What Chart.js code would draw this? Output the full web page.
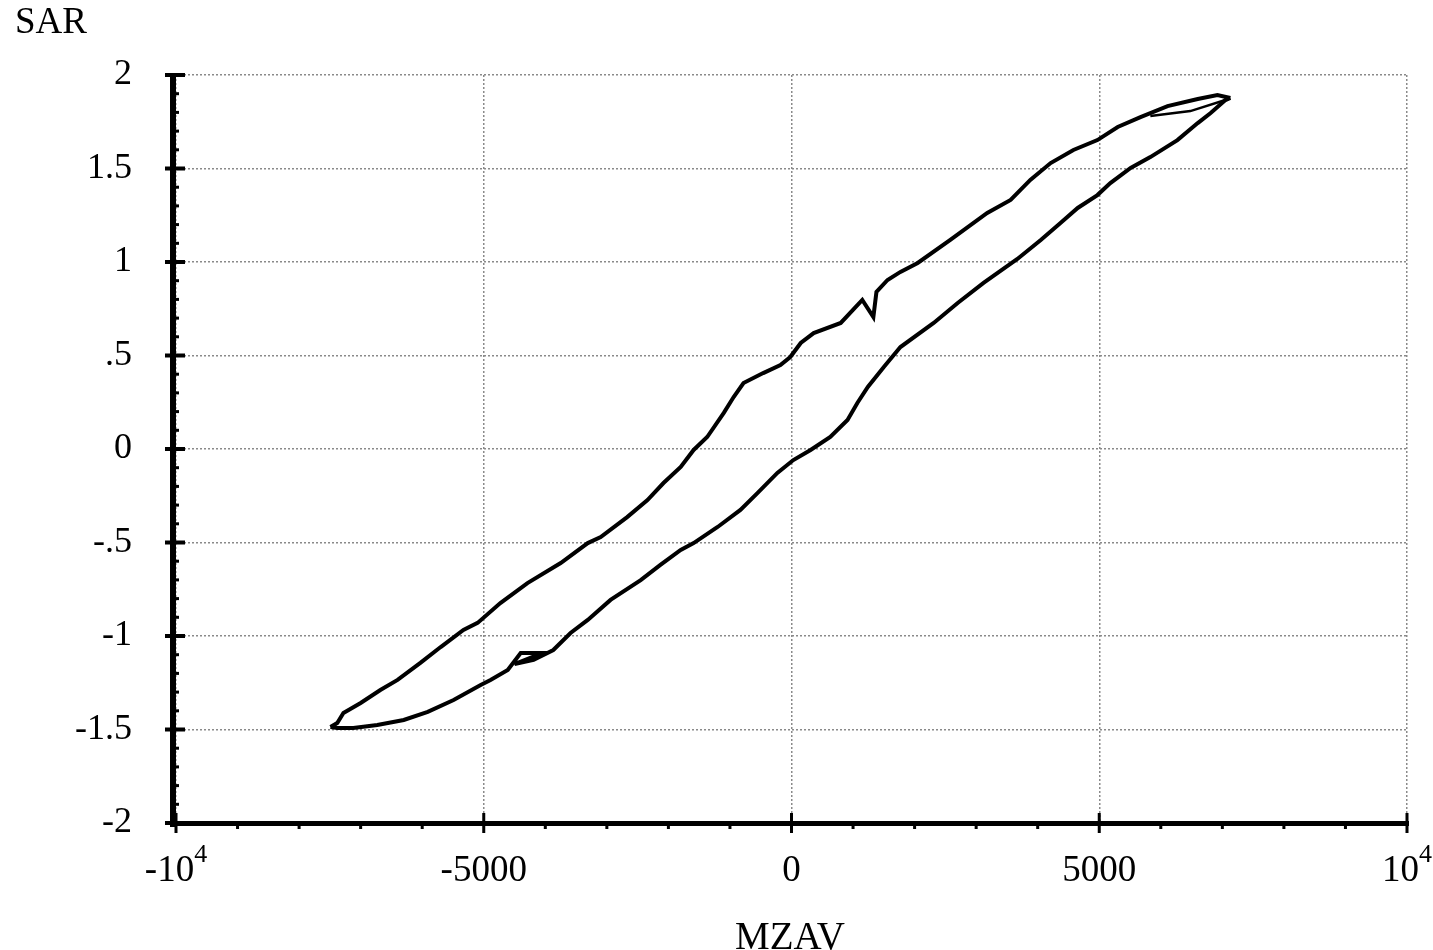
<!DOCTYPE html>
<html>
<head>
<meta charset="utf-8">
<title>SAR vs MZAV</title>
<script src="https://cdn.jsdelivr.net/npm/chart.js@4.4.0/dist/chart.umd.min.js"></script>
<style>
  html, body { margin: 0; padding: 0; background: #fff; }
  #wrap { position: relative; width: 1433px; height: 950px; }
  .axis-title { position: absolute; font-family: "Liberation Serif", "Times New Roman", serif; color: #000; }
  #yTitle { left: 15px; top: 2px; font-size: 37px; line-height: 37px; }
  #xTitle { left: 0; width: 1580px; top: 916px; text-align: center; font-size: 39px; line-height: 39px; }
</style>
</head>
<body>
<div id="wrap">
  <canvas id="loopChart" width="1433" height="950"></canvas>
  <div id="yTitle" class="axis-title">SAR</div>
  <div id="xTitle" class="axis-title">MZAV</div>
</div>
<script>
// upper branch, from the positive tip back down to the negative tip
const descX = [7130, 6920, 6600, 6110, 5670, 5300, 4970, 4580, 4210, 3880, 3560, 3180,
  2580, 2050, 1770, 1560, 1380, 1330, 1150, 800, 360, 150, -20, -180, -460, -780,
  -940, -1100, -1370, -1590, -1800, -2080, -2340, -2670, -3100, -3310, -3750, -4290,
  -4730, -5100, -5330, -5700, -6030, -6400, -6680, -7000, -7280, -7380, -7490];
const descY = [1.877, 1.893, 1.872, 1.834, 1.775, 1.722, 1.652, 1.599, 1.529, 1.439, 1.332, 1.262,
  1.118, 0.995, 0.947, 0.904, 0.840, 0.706, 0.797, 0.674, 0.620, 0.567, 0.492, 0.449, 0.406, 0.353,
  0.278, 0.193, 0.064, -0.005, -0.096, -0.182, -0.273, -0.364, -0.471, -0.503, -0.610, -0.717,
  -0.824, -0.930, -0.968, -1.059, -1.144, -1.235, -1.289, -1.358, -1.412, -1.465, -1.487];

// lower branch, from the negative tip up to the positive tip
const ascX = [-7490, -7380, -7120, -6730, -6300, -5910, -5490, -5050, -4890, -4610, -4400, -4050,
  -4500, -4190, -3870, -3590, -3310, -2940, -2450, -2130, -1800, -1590, -1200, -830, -550, -230,
  30, 310, 630, 910, 1070, 1240, 1500, 1770, 2310, 2700, 3120, 3670, 4050, 4370, 4650, 4970,
  5180, 5510, 5830, 6270, 6600, 6810, 7050, 7130];
const ascY = [-1.487, -1.492, -1.492, -1.476, -1.449, -1.406, -1.342, -1.262, -1.235, -1.182, -1.091, -1.091,
  -1.150, -1.128, -1.075, -0.984, -0.914, -0.807, -0.701, -0.620, -0.540, -0.503, -0.417, -0.326, -0.235, -0.128,
  -0.059, -0.005, 0.064, 0.155, 0.246, 0.332, 0.439, 0.545, 0.674, 0.781, 0.888, 1.016, 1.118, 1.209, 1.289, 1.358,
  1.422, 1.503, 1.561, 1.652, 1.743, 1.797, 1.866, 1.877];

// second pass just below the top of the loop
const innerX = [7100, 6480, 5830];
const innerY = [1.872, 1.807, 1.781];

const yTickLabels = ['-2', '-1.5', '-1', '-.5', '0', '.5', '1', '1.5', '2'];
const yTickValues = [-2, -1.5, -1, -0.5, 0, 0.5, 1, 1.5, 2];
const xTickValues = [-10000, -5000, 0, 5000, 10000];
const xTickText = ['-10', '-5000', '0', '5000', '10'];
const xTickSup = ['4', '', '', '', '4'];

const toPoints = (xs, ys) => xs.map((x, i) => ({ x: x, y: ys[i] }));
const serif = '"Liberation Serif", "Times New Roman", serif';

// axis bars, tick marks and the x labels (with exponents)
const axesPlugin = {
  id: 'axesPlugin',
  afterDraw(chart) {
    const ctx = chart.ctx;
    const { left, right, top, bottom } = chart.chartArea;
    const xs = chart.scales.x;
    const ys = chart.scales.y;
    ctx.save();
    ctx.fillStyle = '#000';

    ctx.fillRect(left - 6, top - 2, 6, bottom - top + 6);
    ctx.fillRect(left - 6, bottom - 2, right - left + 8, 5);

    for (let i = -20; i <= 20; i++) {
      const py = ys.getPixelForValue(i / 10);
      if (i % 5 === 0) {
        ctx.fillRect(left - 11, py - 2, 20, 4);
      } else {
        ctx.fillRect(left, py - 1.5, 3, 3);
      }
    }
    for (let i = -10; i <= 10; i++) {
      const px = xs.getPixelForValue(i * 1000);
      if (i % 5 === 0) {
        ctx.fillRect(px - 1.5, bottom - 10, 3, 20);
      } else {
        ctx.fillRect(px - 1.5, bottom, 3, 6);
      }
    }

    ctx.textBaseline = 'alphabetic';
    ctx.textAlign = 'left';
    xTickValues.forEach((v, i) => {
      const px = xs.getPixelForValue(v);
      ctx.font = '37px ' + serif;
      const w1 = ctx.measureText(xTickText[i]).width;
      ctx.font = '26px ' + serif;
      const w2 = xTickSup[i] ? ctx.measureText(xTickSup[i]).width : 0;
      const x0 = px - (w1 + w2) / 2;
      ctx.font = '37px ' + serif;
      ctx.fillText(xTickText[i], x0, 881);
      if (xTickSup[i]) {
        ctx.font = '26px ' + serif;
        ctx.fillText(xTickSup[i], x0 + w1, 862);
      }
    });
    ctx.restore();
  }
};

const lineStyle = {
  showLine: true,
  borderColor: '#000',
  borderWidth: 4,
  pointRadius: 0,
  tension: 0,
  fill: false
};

new Chart(document.getElementById('loopChart'), {
  type: 'scatter',
  data: {
    datasets: [
      Object.assign({ label: 'descending', data: toPoints(descX, descY) }, lineStyle),
      Object.assign({ label: 'ascending', data: toPoints(ascX, ascY) }, lineStyle),
      Object.assign({ label: 'inner', data: toPoints(innerX, innerY) }, lineStyle, { borderWidth: 2.5 })
    ]
  },
  options: {
    responsive: false,
    devicePixelRatio: 1,
    animation: false,
    layout: { padding: { left: 0, top: 75, right: 26, bottom: 0 } },
    plugins: { legend: { display: false }, tooltip: { enabled: false } },
    scales: {
      x: {
        type: 'linear',
        min: -10000,
        max: 10000,
        afterBuildTicks: (scale) => { scale.ticks = xTickValues.map(v => ({ value: v })); },
        afterFit: (scale) => { scale.height = 127; },
        ticks: { display: false },
        border: { display: false, dash: [2, 2] },
        grid: { color: '#8a8a8a', lineWidth: 1.5, drawTicks: false }
      },
      y: {
        type: 'linear',
        min: -2,
        max: 2,
        afterBuildTicks: (scale) => { scale.ticks = yTickValues.map(v => ({ value: v })); },
        afterFit: (scale) => { scale.width = 176; },
        ticks: {
          padding: 44,
          color: '#000',
          font: { family: serif, size: 36 },
          callback: (v) => yTickLabels[yTickValues.indexOf(v)]
        },
        border: { display: false, dash: [2, 2] },
        grid: { color: '#8a8a8a', lineWidth: 1.5, drawTicks: false }
      }
    }
  },
  plugins: [axesPlugin]
});
</script>
</body>
</html>
